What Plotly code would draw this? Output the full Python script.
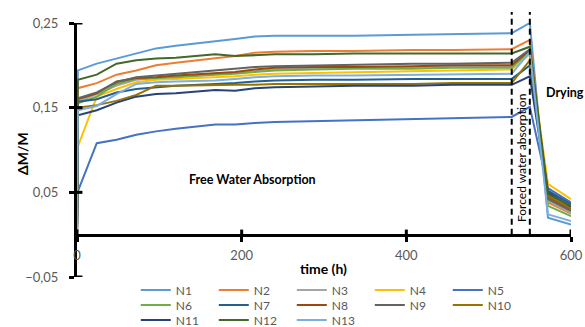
import plotly.graph_objects as go

time_h = [0, 1, 24, 48, 72, 96, 120, 168, 192, 216, 240, 288, 336, 408, 456, 528, 550, 572, 600]

N1 = [0, 0.194, 0.202, 0.208, 0.214, 0.220, 0.223, 0.228, 0.231, 0.234, 0.235, 0.235, 0.235, 0.236, 0.237, 0.238, 0.250, 0.020, 0.012]
N2 = [0, 0.173, 0.179, 0.189, 0.194, 0.200, 0.203, 0.208, 0.211, 0.215, 0.216, 0.217, 0.217, 0.218, 0.218, 0.219, 0.230, 0.038, 0.025]
N3 = [0, 0.157, 0.166, 0.176, 0.183, 0.185, 0.187, 0.190, 0.191, 0.193, 0.195, 0.196, 0.197, 0.198, 0.198, 0.199, 0.215, 0.040, 0.026]
N4 = [0, 0.104, 0.163, 0.172, 0.180, 0.183, 0.184, 0.186, 0.187, 0.189, 0.190, 0.191, 0.192, 0.193, 0.194, 0.195, 0.213, 0.060, 0.042]
N5 = [0, 0.051, 0.108, 0.112, 0.118, 0.122, 0.125, 0.130, 0.130, 0.132, 0.133, 0.134, 0.135, 0.136, 0.137, 0.139, 0.151, 0.055, 0.038]
N6 = [0, 0.155, 0.163, 0.178, 0.184, 0.185, 0.186, 0.189, 0.190, 0.192, 0.194, 0.195, 0.196, 0.196, 0.197, 0.197, 0.217, 0.034, 0.022]
N7 = [0, 0.157, 0.160, 0.168, 0.172, 0.174, 0.176, 0.178, 0.179, 0.181, 0.182, 0.183, 0.183, 0.184, 0.184, 0.184, 0.200, 0.052, 0.036]
N8 = [0, 0.160, 0.167, 0.181, 0.185, 0.186, 0.188, 0.191, 0.192, 0.195, 0.197, 0.198, 0.198, 0.199, 0.200, 0.200, 0.218, 0.044, 0.030]
N9 = [0, 0.161, 0.168, 0.180, 0.186, 0.188, 0.190, 0.194, 0.196, 0.198, 0.199, 0.200, 0.201, 0.202, 0.202, 0.203, 0.219, 0.042, 0.028]
N10 = [0, 0.150, 0.153, 0.158, 0.165, 0.176, 0.176, 0.177, 0.177, 0.177, 0.178, 0.178, 0.178, 0.178, 0.179, 0.179, 0.206, 0.046, 0.031]
N11 = [0, 0.141, 0.147, 0.156, 0.163, 0.166, 0.167, 0.171, 0.170, 0.173, 0.174, 0.175, 0.176, 0.176, 0.177, 0.177, 0.187, 0.050, 0.033]
N12 = [0, 0.183, 0.189, 0.202, 0.206, 0.208, 0.209, 0.213, 0.211, 0.212, 0.213, 0.213, 0.214, 0.214, 0.214, 0.214, 0.222, 0.048, 0.034]
N13 = [0, 0.147, 0.152, 0.166, 0.178, 0.180, 0.181, 0.182, 0.184, 0.186, 0.187, 0.188, 0.188, 0.189, 0.189, 0.190, 0.216, 0.024, 0.016]

names = ["N1", "N2", "N3", "N4", "N5", "N6", "N7", "N8", "N9", "N10", "N11", "N12", "N13"]
series = [N1, N2, N3, N4, N5, N6, N7, N8, N9, N10, N11, N12, N13]
colors = ["#5B9BD5", "#ED7D31", "#A5A5A5", "#FFC000", "#4472C4", "#70AD47", "#255E91",
          "#9E480E", "#636363", "#997300", "#264478", "#43682B", "#7CAFDD"]

phase_marks = [528, 550]
y_ticks = [-0.05, 0.05, 0.15, 0.25]
x_ticks = [0, 200, 400, 600]

FONT = "Lato"
GREY = "#595959"

fig = go.Figure()
for i, (nm, ys, c) in enumerate(zip(names, series, colors)):
    leg = "legend" if i < 5 else ("legend2" if i < 10 else "legend3")
    fig.add_trace(go.Scatter(x=time_h, y=ys, name=nm, mode="lines",
                             line=dict(color=c, width=2), legend=leg))

for xm in phase_marks:
    fig.add_shape(type="line", xref="x", yref="paper", x0=xm, x1=xm,
                  y0=1/6, y1=1.043, line=dict(color="black", width=2, dash="6px,4px"))

# inner halves of the crossing tick marks
for yt in y_ticks:
    fig.add_shape(type="line", xref="paper", yref="y", x0=0, x1=0.011, y0=yt, y1=yt,
                  line=dict(color="black", width=3))
for xt in x_ticks:
    fig.add_shape(type="line", xref="x", yref="paper", x0=xt, x1=xt, y0=1/6, y1=1/6 + 0.02,
                  line=dict(color="black", width=3))

legend_common = dict(orientation="h", xanchor="left", yanchor="middle",
                     bgcolor="rgba(0,0,0,0)", font=dict(family=FONT, size=12, color=GREY),
                     itemwidth=30, entrywidth=33, entrywidthmode="pixels",
                     tracegroupgap=0, traceorder="normal")

fig.update_layout(
    width=585, height=327,
    margin=dict(l=77, r=14, t=23, b=50, autoexpand=False),
    paper_bgcolor="white", plot_bgcolor="white",
    separators=",.",
    font=dict(family=FONT, color=GREY),
    showlegend=True,
    legend=dict(x=0.119, y=-0.051, **legend_common),
    legend2=dict(x=0.119, y=-0.110, **legend_common),
    legend3=dict(x=0.119, y=-0.169, **legend_common),
    xaxis=dict(range=[0, 600], tickvals=x_ticks, showline=True, linecolor="black",
               linewidth=3, ticks="outside", ticklen=5, tickwidth=3, tickcolor="black",
               anchor="free", position=1/6, showgrid=False, zeroline=False,
               tickfont=dict(family=FONT, size=13, color=GREY), ticklabelstandoff=3),
    yaxis=dict(range=[-0.05, 0.25], tickvals=y_ticks, tickformat=".2f", showline=True,
               linecolor="black", linewidth=3, ticks="outside", ticklen=5, tickwidth=3,
               tickcolor="black", showgrid=False, zeroline=False,
               tickfont=dict(family=FONT, size=13, color=GREY), ticklabelstandoff=8),
)

ann_font = dict(family=FONT, size=12.5, color="black")
fig.add_annotation(x=213, y=0.0646, xref="x", yref="y", text="<b>Free Water Absorption</b>",
                   showarrow=False, font=ann_font, xanchor="center", yanchor="middle")
fig.add_annotation(x=593, y=0.1674, xref="x", yref="y", text="<b>Drying</b>",
                   showarrow=False, font=ann_font, xanchor="center", yanchor="middle")
fig.add_annotation(x=540.5, y=0.0906, xref="x", yref="y", text="Forced water absorption",
                   showarrow=False, textangle=-90, xanchor="center", yanchor="middle",
                   font=dict(family=FONT, size=12, color="black"))
fig.add_annotation(x=-0.1114, y=0.488, xref="paper", yref="paper", text="<b>ΔM/M</b>",
                   showarrow=False, textangle=-90, xanchor="center", yanchor="middle",
                   font=dict(family=FONT, size=14, color="black"))
fig.add_annotation(x=0.498, y=0.0354, xref="paper", yref="paper", text="<b>time (h)</b>",
                   showarrow=False, xanchor="center", yanchor="middle",
                   font=dict(family=FONT, size=14, color="black"))

fig.write_html("out.html")
